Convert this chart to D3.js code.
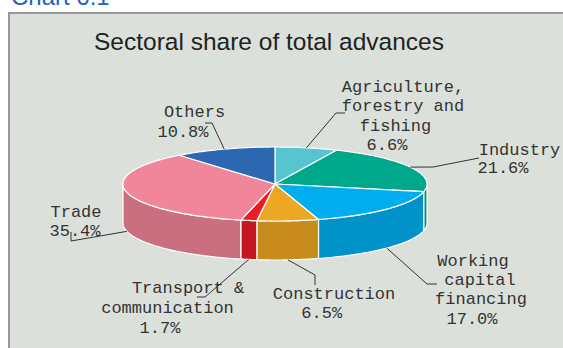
<!DOCTYPE html>
<html>
<head>
<meta charset="utf-8">
<script src="https://cdn.jsdelivr.net/npm/d3@7"></script>
<style>
  body { margin: 0; background: #fff; }
  svg { display: block; }
</style>
</head>
<body>
<div id="chart"></div>
<script>
// Sectoral share of total advances (per cent)
const sectors = ["Agriculture, forestry and fishing", "Industry", "Working capital financing",
  "Construction", "Transport & communication", "Trade", "Others"];
const shares = [6.6, 21.6, 17.0, 6.5, 1.7, 35.4, 10.8];
const colors = ["#56C5D0", "#00A88B", "#00AEEF", "#EEA722", "#ED1C24", "#F18599", "#2C67B2"];
const labelText = [
  ["Agriculture,", "forestry and", "fishing"],
  ["Industry"],
  ["Working", "capital", "financing"],
  ["Construction"],
  ["Transport &", "communication"],
  ["Trade"],
  ["Others"]
];

// label placement: line centres/baselines and leader elbow + end
const labelLayout = [
  { lines: [[403, 92], [403, 111], [395.5, 130.5], [387, 150]], leader: [[336, 113], [345, 113]] },
  { lines: [[519.5, 155], [503, 173]], leader: [[433, 167], [479, 158]] },
  { lines: [[473, 266], [480, 285], [481, 304], [472, 324]], leader: [[427, 284], [437, 284]] },
  { lines: [[334, 299], [321.7, 318]], leader: [[315, 275], [315, 285]] },
  { lines: [[188, 293], [167.5, 313], [160, 333]], leader: [[205, 297], [197, 297]] },
  { lines: [[76, 217], [75, 236]], leader: [[71, 241], [71, 232]] },
  { lines: [[194.5, 117], [183, 137]], leader: [[212, 123], [205, 123]] }
];

const W = 563, H = 348;
const cx = 275, cy = 184, rx = 152, ry = 37, depth = 39;

const svg = d3.select("#chart").append("svg")
  .attr("width", W).attr("height", H);

// header, cut off at top of the page
svg.append("text")
  .attr("x", 11).attr("y", 5)
  .style("font-family", "Liberation Sans, Arial, sans-serif")
  .style("font-size", "24px")
  .attr("fill", "#1E63C0")
  .text("Chart 6.1");

// grey panel
svg.append("rect")
  .attr("x", 9).attr("y", 13).attr("width", 600).attr("height", 400)
  .attr("fill", "#DCE0DB").attr("stroke", "#999").attr("stroke-width", 2);

svg.append("text")
  .attr("x", 269).attr("y", 50)
  .attr("text-anchor", "middle")
  .style("font-family", "Liberation Sans, Arial, sans-serif")
  .style("font-size", "24.5px")
  .attr("fill", "#222")
  .text("Sectoral share of total advances");

const data = sectors.map((s, i) => ({ sector: s, share: shares[i], color: colors[i], i }));

const arcs = d3.pie().sort(null).value(d => d.share)(data);

const px = a => cx + rx * Math.sin(a);
const py = a => cy - ry * Math.cos(a);
const samples = (a0, a1) => {
  const n = Math.max(2, Math.ceil((a1 - a0) / 0.02));
  return d3.range(n + 1).map(k => a0 + (a1 - a0) * k / n);
};

function topPath(d) {
  const pts = samples(d.startAngle, d.endAngle).map(a => [px(a), py(a)]);
  return "M" + cx + "," + cy + "L" + pts.map(p => p.join(",")).join("L") + "Z";
}

function sidePath(d) {
  const s = Math.max(d.startAngle, Math.PI / 2), e = Math.min(d.endAngle, 3 * Math.PI / 2);
  if (s >= e) return null;
  const a = samples(s, e);
  const upper = a.map(t => [px(t), py(t)]);
  const lower = a.slice().reverse().map(t => [px(t), py(t) + depth]);
  return "M" + upper.concat(lower).map(p => p.join(",")).join("L") + "Z";
}

const pie = svg.append("g");

pie.selectAll("path.side")
  .data(arcs.filter(d => sidePath(d)))
  .join("path")
  .attr("class", "side")
  .attr("d", sidePath)
  .attr("fill", d => d3.color(d.data.color).darker(0.5))
  .attr("stroke", "#fff").attr("stroke-width", 1.2).attr("stroke-linejoin", "round");

pie.selectAll("path.top")
  .data(arcs)
  .join("path")
  .attr("class", "top")
  .attr("d", topPath)
  .attr("fill", d => d.data.color)
  .attr("stroke", "#fff").attr("stroke-width", 1.2).attr("stroke-linejoin", "round");

// leader lines start at slice mid-angle (bottom rim for front slices)
const anchor = d => {
  const m = (d.startAngle + d.endAngle) / 2;
  const front = Math.cos(m) < 0;
  return [px(m), py(m) + (front ? depth : 0)];
};

svg.append("g").selectAll("path")
  .data(arcs)
  .join("path")
  .attr("d", d => d3.line()([anchor(d), ...labelLayout[d.index].leader]))
  .attr("fill", "none").attr("stroke", "#333").attr("stroke-width", 1);

const fmt = v => d3.format(".1f")(v) + "%";

const labels = svg.append("g")
  .style("font-family", "Liberation Mono, Courier New, monospace")
  .style("font-size", "17px")
  .attr("fill", "#333");

arcs.forEach(d => {
  const lines = labelText[d.index].concat([fmt(d.data.share)]);
  const pos = labelLayout[d.index].lines;
  lines.forEach((t, k) => {
    labels.append("text")
      .attr("x", pos[k][0]).attr("y", pos[k][1])
      .attr("text-anchor", "middle")
      .text(t);
  });
});
</script>
</body>
</html>
